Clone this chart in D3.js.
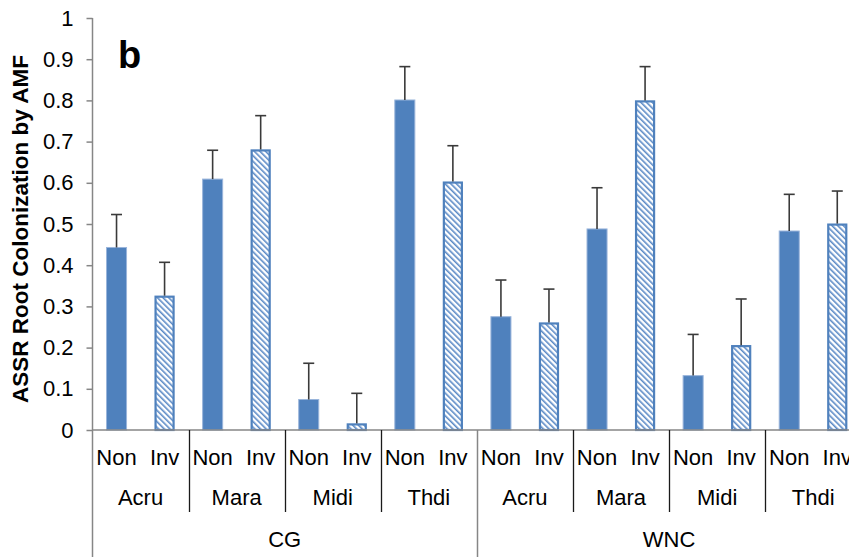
<!DOCTYPE html>
<html>
<head>
<meta charset="utf-8">
<script src="https://cdn.jsdelivr.net/npm/d3@7"></script>
<style>
  html, body { margin: 0; padding: 0; background: #fff; }
  svg { display: block; font-family: "Liberation Sans", Arial, sans-serif; }
</style>
</head>
<body>
<svg id="chart" width="849" height="557"></svg>
<script>
// Sites, species and status of the plants sampled
const regions = ["CG", "WNC"];
const species = ["Acru", "Mara", "Midi", "Thdi"];
const statuses = ["Non", "Inv"];

// Mean colonization, one entry per region x species, Non then Inv
const nonMeans = [0.443, 0.609, 0.074, 0.801, 0.275, 0.488, 0.132, 0.483];
const invMeans = [0.326, 0.681, 0.016, 0.603, 0.261, 0.800, 0.206, 0.501];
// Standard errors (drawn upward only)
const nonErrors = [0.080, 0.070, 0.088, 0.081, 0.089, 0.100, 0.100, 0.089];
const invErrors = [0.081, 0.082, 0.073, 0.087, 0.081, 0.082, 0.112, 0.079];

const yTicks = [0, 0.1, 0.2, 0.3, 0.4, 0.5, 0.6, 0.7, 0.8, 0.9, 1];

const groups = [];
regions.forEach(r => species.forEach(s => groups.push(r + "|" + s)));
const rows = [];
groups.forEach((g, i) => {
  rows.push({ group: g, status: "Non", value: nonMeans[i], err: nonErrors[i] });
  rows.push({ group: g, status: "Inv", value: invMeans[i], err: invErrors[i] });
});

const svg = d3.select("#chart");
const x0 = 92.5, step = 96.1;
const xGroup = d3.scaleBand().domain(groups).range([x0, x0 + step * groups.length]);
const xStatus = d3.scaleBand().domain(statuses).range([0, xGroup.bandwidth()])
  .paddingInner(0.583).paddingOuter(0.2917);
const y = d3.scaleLinear().domain([0, 1]).range([430, 18]);

const blue = "#4F81BD";
const defs = svg.append("defs");
defs.append("pattern")
  .attr("id", "hatch")
  .attr("patternUnits", "userSpaceOnUse")
  .attr("width", 4).attr("height", 4)
  .attr("patternTransform", "rotate(-45)")
  .call(p => {
    p.append("rect").attr("width", 4).attr("height", 4).attr("fill", "#fff");
    p.append("rect").attr("x", 0).attr("width", 1.6).attr("height", 4).attr("fill", "#5b8ac6");
  });

// Y axis
const yAxis = d3.axisLeft(y).tickValues(yTicks).tickSize(6).tickPadding(8)
  .tickFormat(d => d3.format("")(+d.toFixed(1)));
const gy = svg.append("g").attr("transform", `translate(${x0},0)`).call(yAxis);
gy.select(".domain").remove();
gy.selectAll(".tick line").attr("stroke", "#868686").attr("stroke-width", 1.5);
gy.selectAll(".tick text").attr("font-size", 22).attr("fill", "#000")
  .attr("x", -19);
svg.append("line").attr("x1", x0).attr("x2", x0).attr("y1", y(1)).attr("y2", 557)
  .attr("stroke", "#868686").attr("stroke-width", 1.5);

// Bars
const barG = svg.append("g");
barG.selectAll("rect.bar").data(rows).join("rect")
  .attr("class", "bar")
  .attr("x", d => xGroup(d.group) + xStatus(d.status) + (d.status === "Inv" ? 1 : 0))
  .attr("width", d => xStatus.bandwidth() - (d.status === "Inv" ? 2 : 0))
  .attr("y", d => y(d.value) + (d.status === "Inv" ? 1 : 0))
  .attr("height", d => y(0) - y(d.value) - (d.status === "Inv" ? 1 : 0))
  .attr("fill", d => d.status === "Non" ? blue : "url(#hatch)")
  .attr("stroke", d => d.status === "Non" ? "#9ab5db" : blue)
  .attr("stroke-width", d => d.status === "Non" ? 1 : 2.2);

// Error bars
const errG = svg.append("g").attr("stroke", "#3a3a3a").attr("stroke-width", 1.6);
rows.forEach(d => {
  const cx = xGroup(d.group) + xStatus(d.status) + xStatus.bandwidth() / 2;
  errG.append("line").attr("x1", cx).attr("x2", cx)
    .attr("y1", y(d.value)).attr("y2", y(d.value + d.err));
  errG.append("line").attr("x1", cx - 5.5).attr("x2", cx + 5.5)
    .attr("y1", y(d.value + d.err)).attr("y2", y(d.value + d.err));
});

// X axis baseline
svg.append("line").attr("x1", x0).attr("x2", 849).attr("y1", y(0)).attr("y2", y(0))
  .attr("stroke", "#868686").attr("stroke-width", 1.5);

// Multi-level category labels
const labG = svg.append("g").attr("font-size", 22).attr("fill", "#000").attr("text-anchor", "middle");
rows.forEach(d => {
  labG.append("text")
    .attr("x", xGroup(d.group) + xStatus(d.status) + xStatus.bandwidth() / 2)
    .attr("y", 465).text(d.status);
});
groups.forEach(g => {
  labG.append("text").attr("x", xGroup(g) + xGroup.bandwidth() / 2)
    .attr("y", 505).text(g.split("|")[1]);
});
regions.forEach(r => {
  const first = xGroup(r + "|" + species[0]);
  const last = xGroup(r + "|" + species[species.length - 1]) + xGroup.bandwidth();
  labG.append("text").attr("x", (first + last) / 2).attr("y", 547).text(r);
});

// Dividers between species and between regions
const divG = svg.append("g");
groups.forEach((g, i) => {
  if (i === 0) return;
  const xx = Math.round(xGroup(g)) + 0.5;
  const regionEdge = i % species.length === 0;
  divG.append("line").attr("x1", xx).attr("x2", xx)
    .attr("y1", y(0)).attr("y2", regionEdge ? 557 : 512)
    .attr("stroke", regionEdge ? "#868686" : "#1a1a1a")
    .attr("stroke-width", regionEdge ? 1.5 : 1.3);
});

// Y axis title
svg.append("text")
  .attr("transform", `translate(28,${(y(0) + y(1)) / 2 + 5}) rotate(-90)`)
  .attr("text-anchor", "middle").attr("font-weight", "bold").attr("font-size", 22.5)
  .attr("fill", "#000").text("ASSR Root Colonization by AMF");

// Panel letter
svg.append("text").attr("x", 118).attr("y", 68).attr("font-weight", "bold")
  .attr("font-size", 38).attr("fill", "#000").text("b");
</script>
</body>
</html>
